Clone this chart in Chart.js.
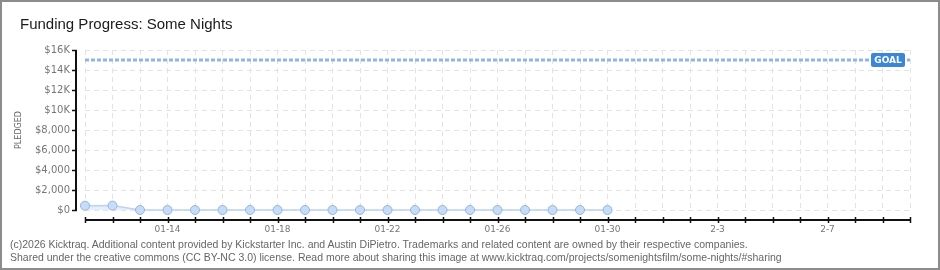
<!DOCTYPE html>
<html>
<head>
<meta charset="utf-8">
<script src="https://cdn.jsdelivr.net/npm/chart.js@4.4.1/dist/chart.umd.min.js"></script>
<style>
  html, body { margin: 0; padding: 0; background: #fff; }
  #wrap { position: relative; width: 940px; height: 270px; overflow: hidden; }
  #wrap canvas { position: absolute; left: 0; top: 0; }
  #frame { position: absolute; left: 0; top: 0; width: 940px; height: 270px; box-sizing: border-box; border: 2px solid #8c8c8c; pointer-events: none; }
  #title { position: absolute; left: 20px; top: 15px; font: 15px "Liberation Sans", Arial, sans-serif; color: #1a1a1a; white-space: nowrap; }
  .foot { position: absolute; left: 10px; font: 10.5px "Liberation Sans", Arial, sans-serif; color: #666; white-space: nowrap; }
</style>
</head>
<body>
<div id="wrap">
  <canvas id="chart" width="940" height="270"></canvas>
  <div id="title">Funding Progress: Some Nights</div>
  <div class="foot" style="top:238px">(c)2026 Kicktraq. Additional content provided by Kickstarter Inc. and Austin DiPietro. Trademarks and related content are owned by their respective companies.</div>
  <div class="foot" style="top:251px">Shared under the creative commons (CC BY-NC 3.0) license. Read more about sharing this image at www.kicktraq.com/projects/somenightsfilm/some-nights/#sharing</div>
  <div id="frame"></div>
</div>
<script>
// every day shown on the x axis
const days = ['01-11', '01-12', '01-13', '01-14', '01-15', '01-16', '01-17', '01-18', '01-19', '01-20',
  '01-21', '01-22', '01-23', '01-24', '01-25', '01-26', '01-27', '01-28', '01-29', '01-30',
  '01-31', '2-1', '2-2', '2-3', '2-4', '2-5', '2-6', '2-7', '2-8', '2-9', '2-10'];
const xTickLabels = ['01-14', '01-18', '01-22', '01-26', '01-30', '2-3', '2-7'];

// pledged total per day (only tracked up to 01-30)
const pledged = [430, 440, 0, 0, 0, 0, 0, 0, 0, 0, 0, 0, 0, 0, 0, 0, 0, 0, 0, 0];

const goal = 15000;
const yTickLabels = { 0: '$0', 2000: '$2,000', 4000: '$4,000', 6000: '$6,000', 8000: '$8,000',
  10000: '$10K', 12000: '$12K', 14000: '$14K', 16000: '$16K' };

const axisColor = '#111';
const gridColor = '#e3e3e3';

// axis lines drawn off the plot edge, plus the GOAL tag
const axesPlugin = {
  id: 'kicktraqAxes',
  afterDraw(chart) {
    const { ctx, chartArea, scales } = chart;
    const x = scales.x, y = scales.y;
    const ax = chartArea.left - 9;
    const ay = chartArea.bottom + 10;
    ctx.save();
    ctx.lineWidth = 2;
    ctx.strokeStyle = axisColor;
    ctx.beginPath();
    ctx.moveTo(ax, y.getPixelForValue(16000));
    ctx.lineTo(ax, y.getPixelForValue(0));
    ctx.moveTo(chartArea.left, ay);
    ctx.lineTo(chartArea.right, ay);
    ctx.stroke();

    ctx.lineWidth = 1.5;
    y.ticks.forEach(t => {
      const py = Math.round(y.getPixelForValue(t.value)) + 0.5;
      const major = (t.value / 1000) % 2 === 0;
      ctx.strokeStyle = major ? axisColor : '#e00';
      ctx.beginPath();
      ctx.moveTo(ax - 4, py);
      ctx.lineTo(major ? ax + 1 : ax, py);
      ctx.stroke();
    });
    ctx.strokeStyle = axisColor;
    days.forEach((d, i) => {
      const px = Math.round(x.getPixelForValue(i)) + 0.5;
      ctx.beginPath();
      ctx.moveTo(px, ay - 3);
      ctx.lineTo(px, ay + 3);
      ctx.stroke();
    });

    // goal tag at the right end of the goal line
    const gy = y.getPixelForValue(goal);
    const w = 34, h = 14;
    const gx = chartArea.right - 39;
    ctx.fillStyle = '#3a86d8';
    ctx.beginPath();
    ctx.roundRect(gx, gy - h / 2, w, h, 2);
    ctx.fill();
    ctx.fillStyle = '#fff';
    ctx.font = 'bold 9px "DejaVu Sans", sans-serif';
    ctx.textAlign = 'center';
    ctx.textBaseline = 'middle';
    ctx.fillText('GOAL', gx + w / 2, gy + 0.5);
    ctx.restore();
  }
};

new Chart(document.getElementById('chart'), {
  type: 'line',
  plugins: [axesPlugin],
  data: {
    labels: days,
    datasets: [{
      label: 'Pledged',
      data: pledged,
      clip: false,
      borderColor: '#b9d5f3',
      borderWidth: 1.5,
      backgroundColor: 'rgba(196, 220, 246, 0.45)',
      fill: 'origin',
      tension: 0,
      pointRadius: 4.5,
      pointBackgroundColor: '#c6dcf7',
      pointBorderColor: '#94b4dc',
      pointBorderWidth: 1
    }, {
      label: 'Goal',
      data: [{ x: days[0], y: goal }, { x: days[days.length - 1], y: goal }],
      borderColor: '#8db6e4',
      borderWidth: 3,
      borderDash: [4, 2],
      pointRadius: 0,
      fill: false
    }]
  },
  options: {
    responsive: false,
    animation: false,
    layout: { padding: { left: 10, right: 30, top: 50, bottom: 35 } },
    plugins: {
      legend: { display: false },
      tooltip: { enabled: false }
    },
    scales: {
      x: {
        type: 'category',
        offset: false,
        afterFit(scale) { scale.height = 25; },
        grid: { color: gridColor, drawTicks: false, offset: false },
        border: { display: false, dash: [5, 4] },
        ticks: {
          autoSkip: false,
          maxRotation: 0,
          padding: 14,
          color: '#777',
          font: { family: '"DejaVu Sans", sans-serif', size: 9 },
          callback(v, i) { return xTickLabels.includes(days[i]) ? days[i] : ''; }
        }
      },
      y: {
        min: 0,
        max: 16000,
        afterFit(scale) { scale.width = 75; },
        grid: { color: gridColor, drawTicks: false },
        border: { display: false, dash: [5, 4] },
        title: {
          display: true,
          text: 'PLEDGED',
          color: '#666',
          padding: { top: 4, bottom: 0 },
          font: { family: '"DejaVu Sans", sans-serif', size: 8 }
        },
        ticks: {
          stepSize: 1000,
          padding: 15,
          color: '#777',
          font: { family: '"DejaVu Sans", sans-serif', size: 10 },
          callback(v) { return yTickLabels[v] !== undefined ? yTickLabels[v] : ''; }
        }
      }
    }
  }
});
</script>
</body>
</html>
